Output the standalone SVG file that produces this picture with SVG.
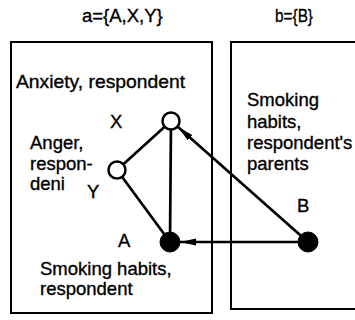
<svg xmlns="http://www.w3.org/2000/svg" width="355" height="320" viewBox="0 0 355 320">
<defs>
<style>
text{font-family:"Liberation Sans",Arial,sans-serif;font-size:18.5px;fill:#000;stroke:#000;stroke-width:0.35}
.box{fill:none;stroke:#000;stroke-width:2}
.edge{stroke:#000;stroke-width:2.7;fill:none}
.open{fill:#fff;stroke:#000;stroke-width:2.5}
.full{fill:#000;stroke:#000;stroke-width:1}
</style>
<marker id="arr" viewBox="0 0 16 8" refX="16" refY="4" markerWidth="16" markerHeight="8" markerUnits="userSpaceOnUse" orient="auto">
<path d="M0,0.5 L16,4 L0,7.5 Z" fill="#000"/>
</marker>
</defs>
<rect fill="#fff" width="355" height="320"/>
<text x="82" y="22">a={A,X,Y}</text>
<text x="275" y="22" textLength="38" lengthAdjust="spacingAndGlyphs">b={B}</text>
<g id="box-a"><rect class="box" x="11" y="42" width="201" height="271"/></g>
<g id="box-b"><rect class="box" x="231" y="42" width="135" height="267"/></g>
<text x="16" y="88" textLength="169" lengthAdjust="spacingAndGlyphs">Anxiety, respondent</text>
<text x="30" y="149">Anger,</text>
<text x="30" y="170">respon-</text>
<text x="30" y="190">deni</text>
<text x="40" y="275">Smoking habits,</text>
<text x="40" y="295">respondent</text>
<text x="247" y="106">Smoking</text>
<text x="247" y="128">habits,</text>
<text x="247" y="149">respondent's</text>
<text x="247" y="170">parents</text>
<g id="connectors">
<line class="edge" x1="117" y1="170" x2="171" y2="121"/>
<line class="edge" x1="117" y1="170" x2="170" y2="242"/>
<line class="edge" x1="171" y1="121" x2="170" y2="242"/>
<line class="edge" x1="308" y1="242" x2="178" y2="127" marker-end="url(#arr)"/>
<line class="edge" x1="308" y1="242" x2="180" y2="242" marker-end="url(#arr)"/>
</g>
<g id="node-X"><circle class="open" cx="171" cy="121" r="8.5"/><text x="110" y="128">X</text></g>
<g id="node-Y"><circle class="open" cx="117" cy="170" r="8.5"/><text x="87" y="198">Y</text></g>
<g id="node-A"><circle class="full" cx="170" cy="242" r="10"/><text x="118" y="247">A</text></g>
<g id="node-B"><circle class="full" cx="308" cy="242" r="10"/><text x="297" y="212">B</text></g>
</svg>
